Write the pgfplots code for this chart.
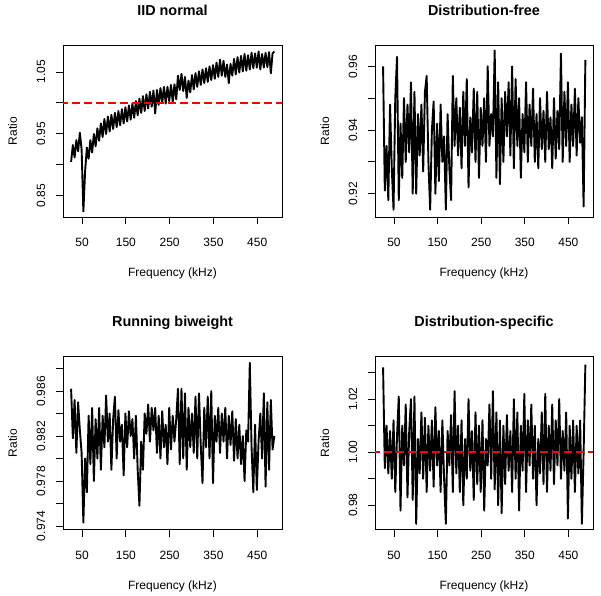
\documentclass[border=0pt]{standalone}
\usepackage{fontspec}
\setmainfont{Liberation Sans}
\usepackage{pgfplots}
\pgfplotsset{compat=1.18}
\pgfplotsset{
 rpanel/.style={
  scale only axis, width=219bp, height=172bp, anchor=south west,
  xmin=6.5, xmax=506.5,
  axis line style={line width=0.9bp},
  every tick/.style={line width=0.9bp, black},
  tick align=outside, major tick length=7bp,
  xtick pos=bottom, ytick pos=left,
  xtick={50,150,250,350,450}, xticklabels={50,150,250,350,450},
  tick label style={font=\fontsize{12bp}{14bp}\selectfont},
  xticklabel style={anchor=base, yshift=-23bp},
  yticklabel style={anchor=base, xshift=-11bp, rotate=90},
  title style={at={([yshift=24bp]axis description cs:0.5,1)}, anchor=base, font=\bfseries\fontsize{14.4bp}{17bp}\selectfont},
  every axis x label/.style={at={([yshift=-60bp]axis description cs:0.5,0)}, anchor=base, font=\fontsize{12bp}{14bp}\selectfont},
  every axis y label/.style={at={([xshift=-46bp]axis description cs:0,0.5)}, anchor=base, rotate=90, font=\fontsize{12bp}{14bp}\selectfont},
  xlabel={Frequency (kHz)}, ylabel={Ratio},
 },
 dline/.style={black, line width=1.9bp, line join=round},
 rline/.style={red, line width=1.5bp, dash pattern=on 8bp off 4bp},
}
\begin{document}
\begin{tikzpicture}
\path[use as bounding box] (0,0) rectangle (601bp,596bp);
% Panel 1
\begin{axis}[rpanel, at={(63bp,379bp)}, title={IID normal},
  ymin=0.816, ymax=1.0935, ytick={0.85,0.90,0.95,1.00,1.05}, yticklabels={0.85,,0.95,,1.05}]
\addplot[dline] coordinates {
(25,0.905)(29,0.932)(33,0.912)(37,0.940)(41,0.922)(45,0.952)(49,0.925)(53,0.825)(57,0.890)(61,0.928)
(65,0.910)(69,0.940)(73,0.920)(77,0.950)(81,0.930)(85,0.959)(89,0.939)(93,0.967)(97,0.945)(101,0.974)
(105,0.950)(109,0.978)(113,0.954)(117,0.981)(121,0.958)(125,0.984)(129,0.961)(133,0.987)(137,0.964)(141,0.990)
(145,0.967)(149,0.993)(153,0.970)(157,0.996)(161,0.973)(165,0.999)(169,0.976)(173,1.003)(177,0.980)(181,1.007)
(185,0.984)(189,1.011)(193,0.987)(197,1.014)(201,0.991)(205,1.018)(209,0.994)(213,1.020)(217,0.983)(221,1.021)
(225,0.997)(229,1.024)(233,1.000)(237,1.026)(241,0.999)(245,1.026)(249,1.003)(253,1.029)(257,1.002)(261,1.030)
(265,1.006)(269,1.044)(273,1.021)(277,1.047)(281,1.019)(285,1.042)(289,1.008)(293,1.036)(297,1.017)(301,1.045)
(305,1.022)(309,1.048)(313,1.026)(317,1.051)(321,1.029)(325,1.054)(329,1.032)(333,1.056)(337,1.034)(341,1.059)
(345,1.037)(349,1.061)(353,1.039)(357,1.065)(361,1.042)(365,1.070)(369,1.044)(373,1.068)(377,1.042)(381,1.062)
(385,1.032)(389,1.063)(393,1.044)(397,1.071)(401,1.046)(405,1.074)(409,1.049)(413,1.076)(417,1.051)(421,1.079)
(425,1.052)(429,1.077)(433,1.054)(437,1.081)(441,1.056)(445,1.080)(449,1.057)(453,1.083)(457,1.054)(461,1.079)
(465,1.057)(469,1.081)(473,1.058)(477,1.082)(481,1.048)(485,1.080)(489,1.083)};
\addplot[rline] coordinates {(0,1)(520,1)};
\end{axis}
% Panel 2
\begin{axis}[rpanel, at={(375bp,379bp)}, width=218bp, title={Distribution-free},
  ymin=0.9127, ymax=0.9667, ytick={0.92,0.93,0.94,0.95,0.96}, yticklabels={0.92,,0.94,,0.96}]
\addplot[dline] coordinates {
(25,0.960)(29,0.921)(33,0.935)(37,0.918)(41,0.948)(45,0.928)(49,0.915)(53,0.950)(57,0.963)(61,0.918)
(65,0.942)(69,0.925)(73,0.950)(77,0.930)(81,0.948)(85,0.933)(89,0.955)(93,0.920)(97,0.952)(101,0.920)
(105,0.945)(109,0.932)(113,0.948)(117,0.927)(121,0.952)(125,0.957)(129,0.930)(133,0.915)(137,0.940)(141,0.949)
(145,0.920)(149,0.942)(153,0.924)(157,0.948)(161,0.930)(165,0.938)(169,0.915)(173,0.945)(177,0.928)(181,0.918)
(185,0.957)(189,0.935)(193,0.950)(197,0.932)(201,0.947)(205,0.928)(209,0.952)(213,0.935)(217,0.956)(221,0.922)
(225,0.944)(229,0.933)(233,0.953)(237,0.930)(241,0.952)(245,0.925)(249,0.947)(253,0.935)(257,0.950)(261,0.930)
(265,0.960)(269,0.935)(273,0.945)(277,0.938)(281,0.965)(285,0.925)(289,0.955)(293,0.923)(297,0.950)(301,0.930)
(305,0.952)(309,0.938)(313,0.955)(317,0.932)(321,0.960)(325,0.928)(329,0.956)(333,0.935)(337,0.950)(341,0.925)
(345,0.945)(349,0.933)(353,0.955)(357,0.930)(361,0.948)(365,0.935)(369,0.953)(373,0.930)(377,0.945)(381,0.928)
(385,0.950)(389,0.934)(393,0.946)(397,0.930)(401,0.952)(405,0.934)(409,0.944)(413,0.928)(417,0.950)(421,0.931)
(425,0.946)(429,0.934)(433,0.964)(437,0.930)(441,0.952)(445,0.935)(449,0.955)(453,0.930)(457,0.948)(461,0.935)
(465,0.953)(469,0.932)(473,0.950)(477,0.936)(481,0.944)(485,0.916)(489,0.962)};
\end{axis}
% Panel 3
\begin{axis}[rpanel, at={(63bp,66.3bp)}, height=173bp, title={Running biweight},
  ymin=0.97367, ymax=0.98905, ytick={0.974,0.976,0.978,0.980,0.982,0.984,0.986,0.988},
  yticklabels={0.974,,0.978,,0.982,,0.986,}]
\addplot[dline] coordinates {
(25,0.9862)(29,0.9818)(33,0.9852)(37,0.9805)(41,0.9850)(45,0.9825)(49,0.9805)(53,0.9743)(57,0.9800)(61,0.9770)
(65,0.9838)(69,0.9795)(73,0.9845)(77,0.9780)(81,0.9835)(85,0.9800)(89,0.9845)(93,0.9790)(97,0.9838)(101,0.9810)
(105,0.9856)(109,0.9815)(113,0.9840)(117,0.9790)(121,0.9835)(125,0.9855)(129,0.9800)(133,0.9843)(137,0.9815)(141,0.9830)
(145,0.9785)(149,0.9840)(153,0.9810)(157,0.9842)(161,0.9820)(165,0.9835)(169,0.9800)(173,0.9838)(177,0.9790)(181,0.9758)
(185,0.9815)(189,0.9790)(193,0.9840)(197,0.9822)(201,0.9848)(205,0.9815)(209,0.9845)(213,0.9825)(217,0.9845)(221,0.9805)
(225,0.9838)(229,0.9800)(233,0.9842)(237,0.9810)(241,0.9830)(245,0.9795)(249,0.9845)(253,0.9808)(257,0.9838)(261,0.9815)
(265,0.9835)(269,0.9862)(273,0.9795)(277,0.9862)(281,0.9800)(285,0.9858)(289,0.9790)(293,0.9845)(297,0.9810)(301,0.9840)
(305,0.9805)(309,0.9855)(313,0.9800)(317,0.9858)(321,0.9812)(325,0.9778)(329,0.9845)(333,0.9810)(337,0.9855)(341,0.9800)
(345,0.9860)(349,0.9778)(353,0.9838)(357,0.9815)(361,0.9845)(365,0.9805)(369,0.9840)(373,0.9815)(377,0.9845)(381,0.9800)
(385,0.9838)(389,0.9812)(393,0.9842)(397,0.9798)(401,0.9835)(405,0.9800)(409,0.9830)(413,0.9795)(417,0.9820)(421,0.9780)
(425,0.9825)(429,0.9815)(433,0.9885)(437,0.9810)(441,0.9770)(445,0.9830)(449,0.9772)(453,0.9815)(457,0.9840)(461,0.9800)
(465,0.9858)(469,0.9775)(473,0.9850)(477,0.9790)(481,0.9852)(485,0.9808)(489,0.9820)};
\end{axis}
% Panel 4
\begin{axis}[rpanel, at={(375bp,66.3bp)}, width=218bp, height=173bp, title={Distribution-specific},
  ymin=0.9708, ymax=1.036, ytick={0.98,0.99,1.00,1.01,1.02,1.03}, yticklabels={0.98,,1.00,,1.02,}]
\addplot[dline] coordinates {
(25,1.032)(29,0.994)(33,1.010)(37,0.992)(41,1.008)(45,0.990)(49,1.012)(53,0.985)(57,1.006)(61,1.021)
(65,0.978)(69,1.010)(73,0.995)(77,1.018)(81,0.983)(85,1.008)(89,1.020)(93,0.982)(97,1.021)(101,0.973)
(105,1.005)(109,0.992)(113,1.015)(117,0.990)(121,1.013)(125,0.985)(129,1.010)(133,0.993)(137,1.012)(141,0.987)
(145,1.017)(149,0.995)(153,1.008)(157,0.985)(161,1.012)(165,0.990)(169,0.973)(173,1.008)(177,0.995)(181,1.014)
(185,0.985)(189,1.023)(193,0.992)(197,1.010)(201,0.985)(205,1.012)(209,0.980)(213,1.005)(217,0.990)(221,1.020)
(225,0.993)(229,1.008)(233,0.982)(237,1.015)(241,0.988)(245,1.010)(249,0.985)(253,1.012)(257,0.978)(261,1.005)
(265,0.995)(269,1.018)(273,0.990)(277,1.023)(281,0.986)(285,1.015)(289,0.980)(293,1.012)(297,0.977)(301,1.010)
(305,0.988)(309,1.014)(313,0.993)(317,1.008)(321,0.985)(325,1.020)(329,0.990)(333,1.015)(337,0.978)(341,1.010)
(345,0.993)(349,1.022)(353,0.985)(357,1.012)(361,0.995)(365,1.018)(369,0.990)(373,1.010)(377,0.980)(381,1.005)
(385,0.992)(389,1.015)(393,0.988)(397,1.022)(401,0.985)(405,1.010)(409,0.993)(413,1.018)(417,0.988)(421,1.012)
(425,0.995)(429,1.020)(433,0.990)(437,1.008)(441,0.993)(445,1.015)(449,0.975)(453,1.010)(457,0.990)(461,1.012)
(465,0.985)(469,1.010)(473,0.992)(477,1.012)(481,0.973)(485,1.000)(489,1.033)};
\addplot[rline] coordinates {(0,1)(520,1)};
\end{axis}
\end{tikzpicture}
\end{document}
